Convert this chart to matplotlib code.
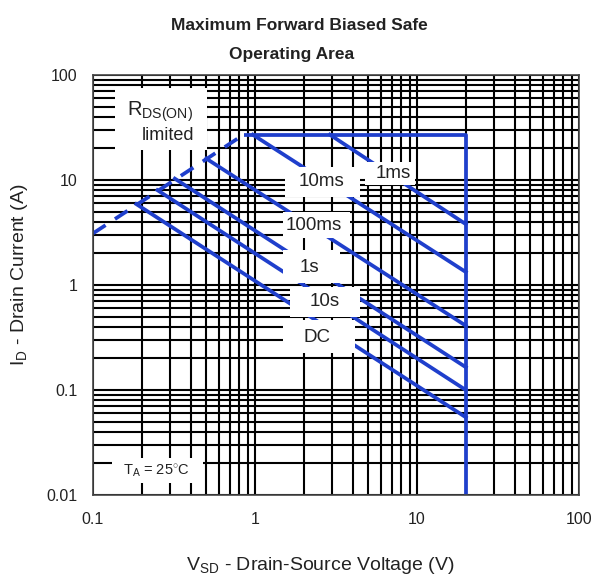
import matplotlib
matplotlib.use("Agg")
import matplotlib.pyplot as plt
from matplotlib.patches import Rectangle

plt.rcParams['font.family'] = ['Liberation Sans', 'DejaVu Sans']
plt.rcParams['mathtext.fontset'] = 'custom'
plt.rcParams['mathtext.rm'] = 'Liberation Sans'
plt.rcParams['mathtext.it'] = 'Liberation Sans'

# SOA boundary values (V, A)
rds_v = [0.1, 0.85]
rds_i = [3.1, 27]

limit_v = [0.85, 20, 20]
limit_i = [27, 27, 0.01]

pulse_names = ['1ms', '10ms', '100ms', '1s', '10s', 'DC']
pulse_v = [[2.9, 20], [0.97, 20], [0.5, 20], [0.32, 20], [0.25, 20], [0.185, 20]]
pulse_i = [[27, 3.8], [27, 1.33], [16, 0.41], [10.3, 0.165], [8, 0.1], [5.9, 0.055]]

x_ticks = [0.1, 1, 10, 100]
x_tick_labels = ['0.1', '1', '10', '100']
y_ticks = [0.01, 0.1, 1, 10, 100]
y_tick_labels = ['0.01', '0.1', '1', '10', '100']

blue = '#1f3fcc'

fig = plt.figure(figsize=(5.95, 5.78), dpi=100)
ax = fig.add_axes([93 / 595, 1 - 495 / 578, 486 / 595, 420 / 578])
ax.set_xscale('log')
ax.set_yscale('log')
ax.set_xlim(0.1, 100)
ax.set_ylim(0.01, 100)

ax.set_axisbelow(True)
ax.grid(which='both', color='black', linewidth=1.5)
for s in ax.spines.values():
    s.set_color('#444444')
    s.set_linewidth(1.2)

ax.set_xticks(x_ticks)
ax.set_xticklabels(x_tick_labels)
ax.set_yticks(y_ticks)
ax.set_yticklabels(y_tick_labels)
ax.tick_params(which='both', length=0, labelsize=11.5, labelcolor='#222222')
ax.tick_params(axis='x', pad=12)
ax.tick_params(axis='y', pad=11)

# RDS(on) limit (dashed) and current / voltage limits
ax.plot(rds_v, rds_i, color=blue, lw=2.7, ls=(0, (4, 3)), zorder=2)
ax.plot(limit_v, limit_i, color=blue, lw=2.7, zorder=2, solid_capstyle='butt')

# constant power lines for each pulse width
for v, i in zip(pulse_v, pulse_i):
    ax.plot(v, i, color=blue, lw=2.7, zorder=2)

# white label boxes over the grid
def box(x0, y0, x1, y1):
    ax.add_patch(Rectangle(((x0 - 93) / 486, (495 - y1) / 420),
                           (x1 - x0) / 486, (y1 - y0) / 420,
                           transform=ax.transAxes, facecolor='white',
                           edgecolor='none', zorder=3))

box(115, 88, 207, 150)
box(285, 167, 360, 197)
box(365, 162, 415, 185)
box(283, 212, 350, 238)
box(283, 250, 340, 283)
box(290, 287, 360, 317)
box(283, 320, 355, 353)
box(112, 458, 203, 483)

def label(px, py, s, size=13.5, ha='center'):
    ax.text((px - 93) / 486, (495 - py) / 420, s, transform=ax.transAxes,
            ha=ha, va='center', fontsize=size, color='#222222', zorder=4)

label(160, 112, r'R$_{\mathrm{DS(ON)}}$', size=14.5)
label(168, 136, 'limited', size=13)
label(321, 182, '10ms')
label(393, 174, '1ms')
label(314, 226, '100ms')
label(309, 267, '1s')
label(325, 301, '10s')
label(317, 338, 'DC')
label(156, 471, r'T$_{\mathrm{A}}$ = 25$^{\circ}$C', size=10.5)

fig.text(299 / 595, 1 - 25 / 578, 'Maximum Forward Biased Safe',
         ha='center', va='center', fontsize=12.5, fontweight='bold', color='#222222')
fig.text(292 / 595, 1 - 55 / 578, 'Operating Area',
         ha='center', va='center', fontsize=12.5, fontweight='bold', color='#222222')

fig.text(320 / 595, 1 - 565 / 578, r'V$_{\mathrm{SD}}$ - Drain-Source Voltage (V)',
         ha='center', va='center', fontsize=14, color='#222222')
fig.text(20 / 595, 1 - 275 / 578, r'I$_{\mathrm{D}}$ - Drain Current (A)',
         ha='center', va='center', rotation=90, fontsize=14, color='#222222')

fig.savefig('out.png', dpi=100)
